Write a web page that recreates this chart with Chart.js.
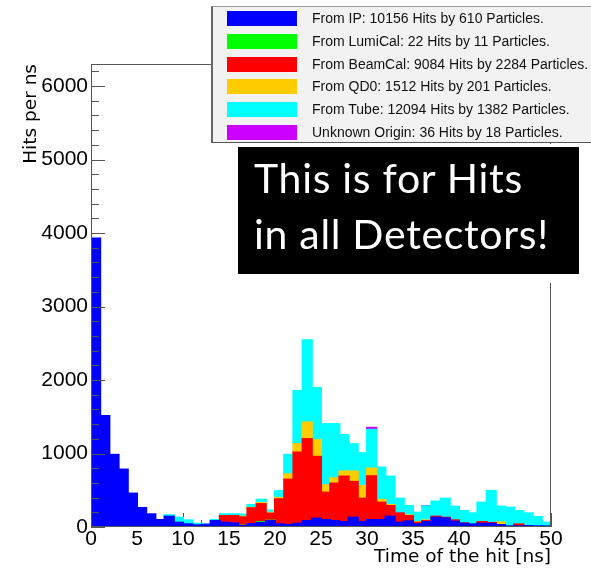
<!DOCTYPE html>
<html>
<head>
<meta charset="utf-8">
<script src="https://cdn.jsdelivr.net/npm/chart.js@4.4.1/dist/chart.umd.min.js"></script>
<style>
  body { margin: 0; background: #fff; }
  #wrap { position: relative; width: 591px; height: 573px; overflow: hidden; }
  #legend { position: absolute; left: 211px; top: 6px; width: 380px; height: 137px; background: #f2f2f2;
            border-top: 1px solid #999; border-left: 2px solid #666; border-bottom: 1px solid #555; box-sizing: border-box; }
  .row { position: absolute; left: 14px; height: 15px; }
  .row .box { position: absolute; left: 0; top: 0; width: 70px; height: 15px; }
  .row .txt { position: absolute; left: 85px; top: -1px; white-space: nowrap; font: 14px "Liberation Sans", Arial, sans-serif; color: #111; }
  #patch { position: absolute; left: 229px; top: 144px; width: 362px; height: 139px; background: #fff; }
  #note { position: absolute; left: 238px; top: 147px; width: 341px; height: 127px; background: #000; color: #fff;
          font: 41px Lato, sans-serif; letter-spacing: 0.7px; line-height: 56px; padding: 3px 0 0 16px; box-sizing: border-box; }
</style>
</head>
<body>
<div id="wrap">
  <canvas id="myChart" width="591" height="573"></canvas>
  <div id="legend"></div>
  <div id="patch"></div>
  <div id="note">This is for Hits<br>in all Detectors!</div>
</div>
<script>
// hits per 1 ns bin, 0..50 ns
var fromIP = [3925, 1510, 982, 782, 455, 259, 173, 95, 141, 59,
              37, 23, 25, 82, 59, 50, 14, 40, 55, 82,
              37, 27, 45, 82, 114, 95, 82, 68, 127, 68,
              95, 95, 141, 59, 77, 37, 68, 127, 118, 73,
              45, 36, 45, 45, 27, 9, 9, 14, 9, 9];
var fromLumiCal = [0, 0, 0, 0, 0, 0, 0, 0, 0, 0,
                   0, 0, 0, 0, 0, 0, 5, 0, 12, 5,
                   0, 0, 0, 0, 0, 0, 0, 0, 0, 0,
                   0, 0, 0, 0, 0, 0, 0, 0, 0, 0,
                   0, 0, 0, 0, 0, 0, 0, 0, 0, 0];
var fromBeamCal = [0, 0, 0, 0, 0, 0, 0, 0, 0, 0,
                   0, 0, 0, 0, 91, 100, 113, 215, 245, 95,
                   341, 618, 969, 1114, 841, 373, 509, 618, 487, 318,
                   596, 237, 145, 127, 73, 22, 14, 14, 9, 18,
                   5, 0, 23, 10, 0, 0, 27, 0, 0, 0];
var fromQD0 = [0, 0, 0, 0, 0, 0, 0, 0, 0, 0,
               0, 0, 0, 0, 0, 0, 9, 5, 14, 13,
               18, 73, 114, 227, 227, 100, 73, 69, 141, 173,
               105, 36, 14, 0, 9, 9, 9, 0, 0, 0,
               0, 0, 0, 0, 37, 0, 0, 0, 0, 0];
var fromTube = [0, 0, 0, 0, 0, 0, 0, 0, 20, 68,
                54, 22, 10, 13, 23, 23, 28, 40, 46, 30,
                91, 264, 723, 1119, 710, 833, 737, 496, 373, 446,
                527, 441, 386, 200, 127, 127, 191, 206, 259, 186,
                168, 150, 264, 436, 213, 255, 182, 172, 127, 50];
var unknownOrigin = [0, 0, 0, 0, 0, 0, 0, 0, 0, 0,
                     0, 0, 5, 0, 0, 0, 0, 0, 0, 0,
                     0, 0, 0, 0, 0, 0, 0, 0, 0, 0,
                     27, 0, 0, 0, 0, 0, 4, 0, 0, 0,
                     0, 0, 0, 0, 0, 0, 0, 0, 0, 0];

var seriesLabels = ['From IP: 10156 Hits by 610 Particles.',
                    'From LumiCal: 22 Hits by 11 Particles.',
                    'From BeamCal: 9084 Hits by 2284 Particles.',
                    'From QD0: 1512 Hits by 201 Particles.',
                    'From Tube: 12094 Hits by 1382 Particles.',
                    'Unknown Origin: 36 Hits by 18 Particles.'];
var seriesColors = ['#0000ff', '#00ff00', '#ff0000', '#ffcc00', '#00ffff', '#cc00ff'];
var seriesValues = [fromIP, fromLumiCal, fromBeamCal, fromQD0, fromTube, unknownOrigin];

var xTickValues = [0, 5, 10, 15, 20, 25, 30, 35, 40, 45, 50];
var yTickValues = [0, 1000, 2000, 3000, 4000, 5000, 6000];
var xMax = 50, yMax = 6300;

// root style inward ticks + frame
var rootFrame = {
    id: 'rootFrame',
    beforeDatasetsDraw: function (chart) {
        // x ticks sit under the bars
        var ctx = chart.ctx, a = chart.chartArea, x = chart.scales.x;
        ctx.save();
        ctx.strokeStyle = '#555';
        ctx.lineWidth = 1;
        ctx.beginPath();
        for (var t = 0; t <= xMax; t++) {
            var px = Math.round(x.getPixelForValue(t)) + 0.5;
            var l2 = (t % 5 === 0) ? 14 : 7;
            ctx.moveTo(px, a.bottom);
            ctx.lineTo(px, a.bottom - l2);
        }
        ctx.stroke();
        ctx.restore();
    },
    afterDatasetsDraw: function (chart) {
        var ctx = chart.ctx, a = chart.chartArea, y = chart.scales.y;
        ctx.save();
        ctx.strokeStyle = '#555';
        ctx.lineWidth = 1;
        ctx.beginPath();
        for (var v = 0; v < yMax; v += 200) {
            var py = Math.round(y.getPixelForValue(v)) + 0.5;
            var len = (v % 1000 === 0) ? 14 : 8;
            ctx.moveTo(a.left, py);
            ctx.lineTo(a.left + len, py);
        }
        ctx.stroke();
        ctx.strokeRect(Math.round(a.left) + 0.5, Math.round(a.top) + 0.5,
                       Math.round(a.width) - 1, Math.round(a.height) - 1);
        ctx.restore();
    }
};

var datasets = seriesValues.map(function (vals, i) {
    return {
        label: seriesLabels[i],
        // empty bins left out so they leave no sliver on top of the stack
        data: vals.map(function (v, k) { return { x: k + 0.5, y: v === 0 ? null : v }; }),
        backgroundColor: seriesColors[i],
        borderWidth: 0,
        inflateAmount: 1,
        barPercentage: 1,
        categoryPercentage: 1
    };
});

var ctx = document.getElementById('myChart').getContext('2d');
var myChart = new Chart(ctx, {
    type: 'bar',
    data: { datasets: datasets },
    options: {
        responsive: false,
        animation: false,
        layout: { padding: { left: 0, right: 40, top: 64, bottom: 0 } },
        plugins: { legend: { display: false }, tooltip: { enabled: false } },
        scales: {
            x: {
                type: 'linear', min: 0, max: xMax, stacked: true, offset: false,
                grid: { display: false, drawTicks: false }, border: { display: false },
                afterBuildTicks: function (s) { s.ticks = xTickValues.map(function (v) { return { value: v }; }); },
                afterFit: function (s) { s.height = 46; },
                ticks: { padding: 0, color: '#000', maxRotation: 0, autoSkip: false,
                         font: { family: 'Liberation Sans', size: 21 },
                         callback: function (v) { return String(v); } },
                title: { display: true, text: 'Time of the hit [ns]', align: 'end', color: '#000',
                         padding: { top: 0, bottom: 5 }, font: { family: 'DejaVu Sans', size: 18.5 } }
            },
            y: {
                min: 0, max: yMax, stacked: true,
                grid: { display: false, drawTicks: false }, border: { display: false },
                afterBuildTicks: function (s) { s.ticks = yTickValues.map(function (v) { return { value: v }; }); },
                afterFit: function (s) { s.width = 91; },
                ticks: { padding: 3, color: '#000', font: { family: 'Liberation Sans', size: 21 },
                         callback: function (v) { return String(v); } },
                title: { display: true, text: 'Hits per ns', align: 'end', color: '#000',
                         padding: { top: 20, bottom: 0 }, font: { family: 'DejaVu Sans', size: 18.5 } }
            }
        }
    },
    plugins: [rootFrame]
});

// legend in the root box
var legend = document.getElementById('legend');
seriesLabels.forEach(function (lab, i) {
    var row = document.createElement('div');
    row.className = 'row';
    row.style.top = (4 + i * 22.75) + 'px';
    row.innerHTML = '<div class="box" style="background:' + seriesColors[i] + '"></div><div class="txt"></div>';
    row.querySelector('.txt').textContent = lab;
    legend.appendChild(row);
});
</script>
</body>
</html>
